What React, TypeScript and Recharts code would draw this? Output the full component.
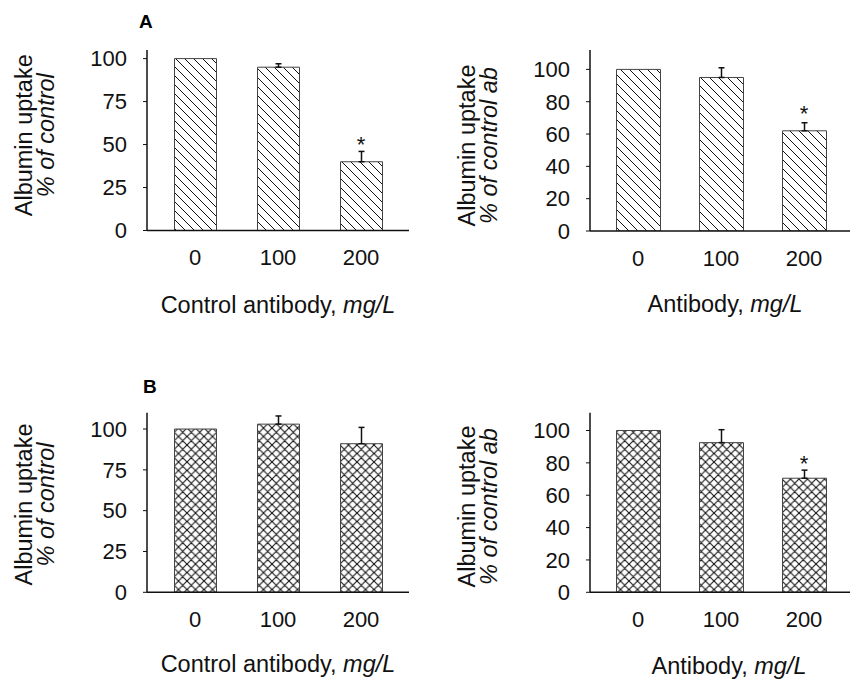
import React from 'react';
import { BarChart, Bar, XAxis, YAxis, ErrorBar, ReferenceDot } from 'recharts';

const FONT = '"Liberation Sans", Arial, Helvetica, sans-serif';
const INK = '#111';

// Categories (antibody concentration, mg/L)
const doses = ['0', '100', '200'];

// Panel A, left: control antibody
const aLeftValues = [100, 95, 40];
const aLeftErrors = [null, 2, 6];
const aLeftStars = [null, null, 53];

// Panel A, right: antibody
const aRightValues = [100, 95, 62];
const aRightErrors = [null, 6, 5];
const aRightStars = [null, null, 76];

// Panel B, left: control antibody
const bLeftValues = [100, 103, 91];
const bLeftErrors = [null, 5, 10];
const bLeftStars = [null, null, null];

// Panel B, right: antibody
const bRightValues = [100, 92.5, 70.5];
const bRightErrors = [null, 8, 5];
const bRightStars = [null, null, 83];

const ticksBy25 = [0, 25, 50, 75, 100];
const ticksBy20 = [0, 20, 40, 60, 80, 100];

function buildRows(values: number[], errors: (number | null)[], stars: (number | null)[]) {
  return doses.map((dose, i) => ({
    dose,
    value: values[i],
    err: errors[i] == null ? null : [0, errors[i]],
    star: stars[i],
  }));
}

function YAxisTitle(props: any) {
  const { viewBox, line2, dy = 0, letter, letterDx = 0, letterDy = 0 } = props;
  if (!viewBox) return null;
  const ax = viewBox.x + viewBox.width;
  const cy = viewBox.y + viewBox.height / 2 + dy;
  const x1 = ax - 115;
  const x2 = ax - 93;
  return (
    <g>
      <text x={x1} y={cy} transform={`rotate(-90 ${x1} ${cy})`} textAnchor="middle"
        fontFamily={FONT} fontSize={23.5} fill={INK}>Albumin uptake</text>
      <text x={x2} y={cy} transform={`rotate(-90 ${x2} ${cy})`} textAnchor="middle"
        fontFamily={FONT} fontSize={23.5} fontStyle="italic" fill={INK}>{line2}</text>
      {letter ? (
        <text x={ax + letterDx} y={viewBox.y + letterDy} fontFamily={FONT} fontSize={19}
          fontWeight="bold" fill="#000">{letter}</text>
      ) : null}
    </g>
  );
}

function XAxisTitle(props: any) {
  const { viewBox, main, italic, dx = 0, dy = 81 } = props;
  if (!viewBox) return null;
  const cx = viewBox.x + viewBox.width / 2 + dx;
  const y = viewBox.y + dy;
  return (
    <text x={cx} y={y} textAnchor="middle" fontFamily={FONT} fontSize={23.5} fill={INK}>
      {main}<tspan fontStyle="italic">{italic}</tspan>
    </text>
  );
}

const StarShape = (props: any) => {
  const { cx, cy } = props;
  if (cx == null || cy == null) return null;
  return (
    <text x={cx} y={cy + 0.57 * 22} textAnchor="middle" fontFamily={FONT} fontSize={22} fill={INK}>*</text>
  );
};

type PanelProps = {
  left: number;
  top: number;
  width: number;
  height: number;
  margin: { top: number; right: number; bottom: number; left: number };
  domainMax: number;
  ticks: number[];
  values: number[];
  errors: (number | null)[];
  stars: (number | null)[];
  patternId: string;
  cross: boolean;
  barSize: number;
  xPadding: { left: number; right: number };
  yLine2: string;
  yDy: number;
  xMain: string;
  xItalic: string;
  xDx: number;
  xDy: number;
  letter?: string;
  letterDx?: number;
  letterDy?: number;
};

function Panel(p: PanelProps) {
  const rows = buildRows(p.values, p.errors, p.stars);
  const hatchPath = 'M-3,-3 L12,12 M-3,6 L3,12 M6,-3 L12,3';
  const crossPath = 'M-2,-2 L10.5,10.5 M-2,6.5 L2,10.5 M6.5,-2 L10.5,2 M-2,10.5 L10.5,-2 M-2,2 L2,-2 M6.5,10.5 L10.5,6.5';
  return (
    <div style={{ position: 'absolute', left: p.left, top: p.top, width: p.width, height: p.height }}>
      <BarChart width={p.width} height={p.height} data={rows} margin={p.margin}>
        <defs>
          {p.cross ? (
            <pattern id={p.patternId} patternUnits="userSpaceOnUse" width={8.5} height={8.5}>
              <rect x={0} y={0} width={8.5} height={8.5} fill="#fff" />
              <path d={crossPath} stroke="#111" strokeWidth={1.1} fill="none" />
            </pattern>
          ) : (
            <pattern id={p.patternId} patternUnits="userSpaceOnUse" width={9} height={9}>
              <rect x={0} y={0} width={9} height={9} fill="#fff" />
              <path d={hatchPath} stroke="#111" strokeWidth={1} fill="none" />
            </pattern>
          )}
        </defs>
        <XAxis
          dataKey="dose"
          type="category"
          interval={0}
          height={30}
          padding={p.xPadding}
          tickSize={0}
          tickMargin={19}
          tickLine={false}
          axisLine={{ stroke: INK, strokeWidth: 1.5 }}
          tick={{ fill: INK, fontSize: 22, fontFamily: FONT }}
          label={<XAxisTitle main={p.xMain} italic={p.xItalic} dx={p.xDx} dy={p.xDy} />}
        />
        <YAxis
          type="number"
          domain={[0, p.domainMax]}
          ticks={p.ticks}
          interval={0}
          width={60}
          tickSize={4}
          tickMargin={16}
          allowDataOverflow
          axisLine={{ stroke: INK, strokeWidth: 1.5 }}
          tickLine={{ stroke: INK, strokeWidth: 1 }}
          tick={{ fill: INK, fontSize: 22, fontFamily: FONT }}
          label={
            <YAxisTitle line2={p.yLine2} dy={p.yDy} letter={p.letter}
              letterDx={p.letterDx} letterDy={p.letterDy} />
          }
        />
        <Bar
          dataKey="value"
          fill={`url(#${p.patternId})`}
          stroke="#444"
          strokeWidth={1}
          barSize={p.barSize}
          isAnimationActive={false}
        >
          <ErrorBar dataKey="err" direction="y" width={3} stroke={INK} strokeWidth={1.5} />
        </Bar>
        {rows
          .filter((r) => r.star != null)
          .map((r) => (
            <ReferenceDot key={r.dose} x={r.dose} y={r.star as number} r={0} shape={StarShape} />
          ))}
      </BarChart>
    </div>
  );
}

export default function App() {
  return (
    <div style={{ position: 'absolute', left: 0, top: 0, width: 850, height: 679, background: '#fff', overflow: 'hidden' }}>
      <Panel
        left={0} top={0} width={425} height={340}
        margin={{ top: 50, right: 16, bottom: 79.5, left: 87 }}
        domainMax={105} ticks={ticksBy25}
        values={aLeftValues} errors={aLeftErrors} stars={aLeftStars}
        patternId="hatchA1" cross={false} barSize={42}
        xPadding={{ left: 6.5, right: 6.5 }}
        yLine2="% of control" yDy={-5}
        xMain="Control antibody, " xItalic="mg/L" xDx={0} xDy={82}
        letter="A" letterDx={-8} letterDy={-22}
      />
      <Panel
        left={425} top={0} width={425} height={340}
        margin={{ top: 50, right: 0, bottom: 79, left: 105 }}
        domainMax={112} ticks={ticksBy20}
        values={aRightValues} errors={aRightErrors} stars={aRightStars}
        patternId="hatchA2" cross={false} barSize={44}
        xPadding={{ left: 6.5, right: 4.5 }}
        yLine2="% of control ab" yDy={5}
        xMain="Antibody, " xItalic="mg/L" xDx={5} xDy={81}
      />
      <Panel
        left={0} top={360} width={425} height={319}
        margin={{ top: 52.7, right: 16, bottom: 56.7, left: 87 }}
        domainMax={110} ticks={ticksBy25}
        values={bLeftValues} errors={bLeftErrors} stars={bLeftStars}
        patternId="crossB1" cross={true} barSize={42}
        xPadding={{ left: 6.5, right: 6.5 }}
        yLine2="% of control" yDy={2}
        xMain="Control antibody, " xItalic="mg/L" xDx={0} xDy={80}
        letter="B" letterDx={-4} letterDy={-20}
      />
      <Panel
        left={425} top={360} width={425} height={319}
        margin={{ top: 52.7, right: 0, bottom: 56.7, left: 105 }}
        domainMax={111} ticks={ticksBy20}
        values={bRightValues} errors={bRightErrors} stars={bRightStars}
        patternId="crossB2" cross={true} barSize={44}
        xPadding={{ left: 6.5, right: 4.5 }}
        yLine2="% of control ab" yDy={4}
        xMain="Antibody, " xItalic="mg/L" xDx={9} xDy={82}
      />
    </div>
  );
}
